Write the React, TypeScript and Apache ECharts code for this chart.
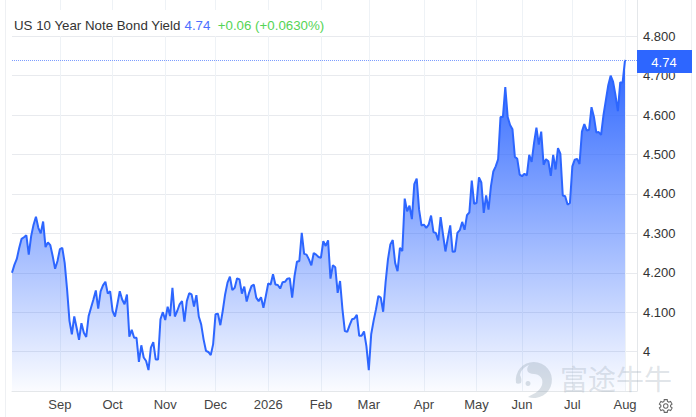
import React, { useEffect, useRef } from "react";
import * as echarts from "echarts";

const monthLabels = ["Sep", "Oct", "Nov", "Dec", "2026", "Feb", "Mar", "Apr", "May", "Jun", "Jul", "Aug"];
const monthStarts = [20, 42, 64, 85, 107, 129, 149, 172, 194, 213, 234, 256];
const slotCount = 262;

const yields = [
  4.2, 4.22, 4.235, 4.263, 4.286, 4.29, 4.295, 4.246, 4.293, 4.322, 4.342, 4.314, 4.3, 4.33, 4.265, 4.277, 4.27, 4.242, 4.21, 4.23,
  4.26, 4.263, 4.225, 4.158, 4.078, 4.044, 4.089, 4.06, 4.03, 4.072, 4.048, 4.037, 4.09, 4.111, 4.132, 4.155, 4.109, 4.153, 4.168, 4.177,
  4.147, 4.153, 4.103, 4.089, 4.12, 4.153, 4.132, 4.12, 4.145, 4.038, 4.055, 4.035, 4.035, 3.974, 4.016, 3.985, 3.976, 3.953, 4.01, 4.024,
  3.98, 3.98, 4.082, 4.1, 4.08, 4.114, 4.09, 4.162, 4.089, 4.103, 4.12, 4.128, 4.076, 4.128, 4.148, 4.145, 4.114, 4.143, 4.089, 4.069,
  4.031, 4.002, 3.999, 3.991, 4.019, 4.095, 4.096, 4.067, 4.103, 4.145, 4.175, 4.19,
  4.156, 4.162, 4.186, 4.183, 4.147, 4.165, 4.127, 4.149, 4.166, 4.17, 4.137, 4.128, 4.138, 4.111, 4.141, 4.173, 4.17, 4.196, 4.17, 4.169,
  4.16, 4.176, 4.177, 4.185, 4.186, 4.137, 4.192, 4.228, 4.23, 4.301, 4.248, 4.246, 4.234, 4.219, 4.25, 4.246, 4.24, 4.238, 4.28, 4.268,
  4.282, 4.185, 4.219, 4.214, 4.149, 4.179, 4.107, 4.052, 4.05, 4.067, 4.082, 4.084, 4.093, 4.04, 4.04, 4.051, 4.014, 3.953, 4.044, 4.078,
  4.107, 4.141, 4.137, 4.101, 4.175, 4.234, 4.272, 4.283, 4.225, 4.204, 4.263, 4.255,
  4.388, 4.356, 4.37, 4.336, 4.425, 4.439, 4.36, 4.32, 4.322, 4.314, 4.322, 4.345, 4.303, 4.301, 4.282, 4.341, 4.297, 4.254, 4.288, 4.32,
  4.253, 4.254, 4.301, 4.308, 4.329, 4.309, 4.346, 4.353, 4.434, 4.375, 4.377, 4.442, 4.429, 4.352, 4.396, 4.36, 4.419, 4.457, 4.47, 4.488,
  4.595, 4.595, 4.671, 4.595,
  4.575, 4.564, 4.494, 4.489, 4.449, 4.445, 4.451, 4.447, 4.499, 4.481, 4.529, 4.568, 4.525, 4.558, 4.474, 4.488, 4.483, 4.446, 4.499, 4.462,
  4.516, 4.502, 4.396, 4.394, 4.373, 4.377, 4.47, 4.487, 4.489, 4.476, 4.558, 4.577, 4.561, 4.563, 4.62, 4.596, 4.556, 4.557, 4.55, 4.6,
  4.638, 4.676, 4.7, 4.685, 4.651, 4.61, 4.683, 4.683, 4.74,
];

const categories = Array.from({ length: slotCount }, (_, i) => String(i));
const seriesData = categories.map((_, i) => (i < yields.length ? yields[i] : null));

const BLUE = "#2d66ff";

const gearPath =
  "M19.4 13a7.5 7.5 0 0 0 0-2l2-1.6-2-3.4-2.4 1a7.5 7.5 0 0 0-1.7-1L15 3.5h-4l-.4 2.5a7.5 7.5 0 0 0-1.7 1l-2.4-1-2 3.4 2 1.6a7.5 7.5 0 0 0 0 2l-2 1.6 2 3.4 2.4-1a7.5 7.5 0 0 0 1.7 1l.4 2.5h4l.4-2.5a7.5 7.5 0 0 0 1.7-1l2.4 1 2-3.4z M13 9a3 3 0 1 0 .01 0z";
const logoPath =
  "M18 0a18 18 0 1 1-6 35c4-3 11-4 14-12 2-7-3-11-8-11-6 0-9-4-5-9-5 2-8 5-9 10 1 2 2 5 1 8-2 1-4 1-5 0A18 18 0 0 1 18 0z M12 19a2.5 2.5 0 1 0 .01 0z";

export default function App() {
  const chartRef = useRef<HTMLDivElement>(null);

  useEffect(() => {
    if (!chartRef.current) return;
    echarts.graphic.registerShape("gearIcon", echarts.graphic.extendPath(gearPath, {}));
    echarts.graphic.registerShape("wmLogo", echarts.graphic.extendPath(logoPath, {}));

    const chart = echarts.init(chartRef.current, undefined, { renderer: "svg" });

    const option: any = {
      animation: false,
      backgroundColor: "#fff",
      textStyle: { fontFamily: "Liberation Sans, Arial, sans-serif" },
      grid: { left: 12, right: 59, top: 0, bottom: 26 },
      xAxis: {
        type: "category",
        data: categories,
        boundaryGap: false,
        axisLine: { show: true, lineStyle: { color: "#e4e7ea" } },
        axisTick: { show: false },
        splitLine: {
          show: true,
          interval: (i: number) => monthStarts.includes(i),
          lineStyle: { color: "#eef2f6", width: 1 },
        },
        axisLabel: {
          interval: (i: number) => monthStarts.includes(i),
          formatter: (_: string, i: number) => monthLabels[monthStarts.indexOf(i)] ?? "",
          color: "#444",
          fontSize: 13,
          margin: 7,
        },
      },
      yAxis: {
        type: "value",
        position: "right",
        min: 3.9,
        max: 4.892,
        interval: 0.1,
        axisLine: { show: true, lineStyle: { color: "#e4e7ea" } },
        axisTick: { show: false },
        splitLine: { show: true, showMaxLine: false, lineStyle: { color: "#e8eaee", width: 1 } },
        axisLabel: {
          showMaxLabel: false,
          showMinLabel: false,
          color: "#333",
          fontSize: 13,
          margin: 6,
          formatter: (v: number) => (Math.abs(v - 4) < 0.001 ? "4" : v.toFixed(3)),
        },
      },
      series: [
        {
          type: "line",
          data: seriesData,
          showSymbol: false,
          connectNulls: false,
          lineStyle: { color: BLUE, width: 2 },
          itemStyle: { color: BLUE },
          areaStyle: {
            opacity: 1,
            color: new echarts.graphic.LinearGradient(0, 0, 0, 1, [
              { offset: 0, color: "rgba(45,102,255,1)" },
              { offset: 1, color: "rgba(45,102,255,0.02)" },
            ]),
          },
          markLine: {
            silent: true,
            symbol: "none",
            label: { show: false },
            lineStyle: { color: "#7d9dff", type: "dotted", width: 1 },
            data: [{ yAxis: 4.74 }],
          },
        },
      ],
      graphic: [
        { type: "line", z: 50, shape: { x1: 5.5, y1: 0, x2: 5.5, y2: 417 }, style: { stroke: "#eef0f3", lineWidth: 1 } },
        { type: "line", z: 50, shape: { x1: 691.5, y1: 0, x2: 691.5, y2: 417 }, style: { stroke: "#eef0f3", lineWidth: 1 } },
        { type: "rect", z: 60, shape: { x: 12, y: 10, width: 314, height: 26 }, style: { fill: "#fff" } },
        {
          type: "text",
          z: 61,
          x: 14,
          y: 25,
          style: {
            text: "{a|US 10 Year Note Bond Yield} {b|4.74}  {c|+0.06 (+0.0630%)}",
            verticalAlign: "middle",
            font: "13.3px Liberation Sans",
            rich: {
              a: { fill: "#333", font: "13.3px Liberation Sans" },
              b: { fill: "#4d70ff", font: "13.3px Liberation Sans" },
              c: { fill: "#55d455", font: "13.3px Liberation Sans" },
            },
          },
        },
        { type: "rect", z: 70, shape: { x: 637, y: 50, width: 55, height: 23 }, style: { fill: BLUE } },
        {
          type: "text",
          z: 71,
          x: 664,
          y: 62,
          style: {
            text: "4.74",
            fill: "#fff",
            font: "13px Liberation Sans",
            align: "center",
            verticalAlign: "middle",
          },
        },
        { type: "wmLogo", z: 80, x: 516, y: 362, scaleX: 1, scaleY: 1, style: { fill: "rgba(150,165,180,0.35)" } },
        {
          type: "text",
          z: 80,
          x: 560,
          y: 378,
          style: {
            text: "富途牛牛",
            fill: "rgba(150,165,180,0.3)",
            font: "28px Noto Sans CJK SC",
            verticalAlign: "middle",
          },
        },
        {
          type: "gearIcon",
          z: 80,
          x: 656,
          y: 397,
          scaleX: 0.75,
          scaleY: 0.75,
          style: { fill: "none", stroke: "#666", lineWidth: 1.4 },
        },
      ],
    };

    chart.setOption(option);
    return () => chart.dispose();
  }, []);

  return <div ref={chartRef} style={{ position: "absolute", left: 0, top: 0, width: 696, height: 417 }} />;
}
